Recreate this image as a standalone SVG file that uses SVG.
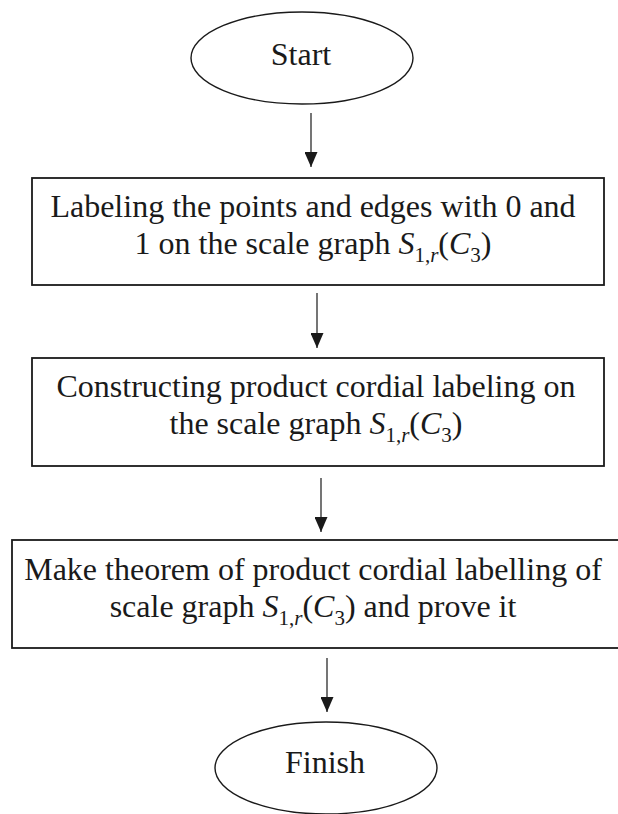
<svg xmlns="http://www.w3.org/2000/svg" width="618" height="814" viewBox="0 0 618 814">
<style>
.t{font-family:"Liberation Serif","Times New Roman",serif;font-size:32px;fill:#1a1a1a;text-anchor:middle}
.m{font-style:italic}
.s{font-size:21px}
.box{fill:#fff;stroke:#1a1a1a;stroke-width:1.8}
.ell{fill:#fff;stroke:#1a1a1a;stroke-width:1.4}
.arr{stroke:#1a1a1a;stroke-width:1.2;fill:none;marker-end:url(#ah)}
</style>
<defs>
<marker id="ah" markerUnits="userSpaceOnUse" markerWidth="15" markerHeight="13" refX="15" refY="6.5" orient="auto" viewBox="0 0 15 13">
<path d="M0,0 L15,6.5 L0,13 z" fill="#1a1a1a"/>
</marker>
</defs>
<rect width="618" height="814" fill="#fff"/>
<g id="start">
<ellipse class="ell" cx="302" cy="58" rx="111" ry="46"/>
<text class="t" x="301" y="65">Start</text>
</g>
<g id="step1">
<rect class="box" x="32" y="178" width="572" height="107"/>
<text class="t" x="313" y="217">Labeling the points and edges with 0 and</text>
<text class="t" x="313" y="254">1 on the scale graph <tspan class="m">S</tspan><tspan class="s" dy="8">1,<tspan class="m">r</tspan></tspan><tspan dy="-8">(</tspan><tspan class="m">C</tspan><tspan class="s" dy="8">3</tspan><tspan dy="-8">)</tspan></text>
</g>
<g id="step2">
<rect class="box" x="32" y="358" width="572" height="108"/>
<text class="t" x="316" y="397">Constructing product cordial labeling on</text>
<text class="t" x="316" y="434">the scale graph <tspan class="m">S</tspan><tspan class="s" dy="8">1,<tspan class="m">r</tspan></tspan><tspan dy="-8">(</tspan><tspan class="m">C</tspan><tspan class="s" dy="8">3</tspan><tspan dy="-8">)</tspan></text>
</g>
<g id="step3">
<rect class="box" x="12" y="540" width="620" height="108"/>
<text class="t" x="313" y="580">Make theorem of product cordial labelling of</text>
<text class="t" x="313" y="617">scale graph <tspan class="m">S</tspan><tspan class="s" dy="8">1,<tspan class="m">r</tspan></tspan><tspan dy="-8">(</tspan><tspan class="m">C</tspan><tspan class="s" dy="8">3</tspan><tspan dy="-8">) and prove it</tspan></text>
</g>
<g id="finish">
<ellipse class="ell" cx="326" cy="768" rx="111" ry="46"/>
<text class="t" x="325" y="773">Finish</text>
</g>
<g id="connectors">
<line class="arr" x1="311" y1="113" x2="311" y2="167"/>
<line class="arr" x1="317" y1="293" x2="317" y2="348"/>
<line class="arr" x1="321" y1="478" x2="321" y2="532"/>
<line class="arr" x1="327" y1="658" x2="327" y2="712"/>
</g>
</svg>
